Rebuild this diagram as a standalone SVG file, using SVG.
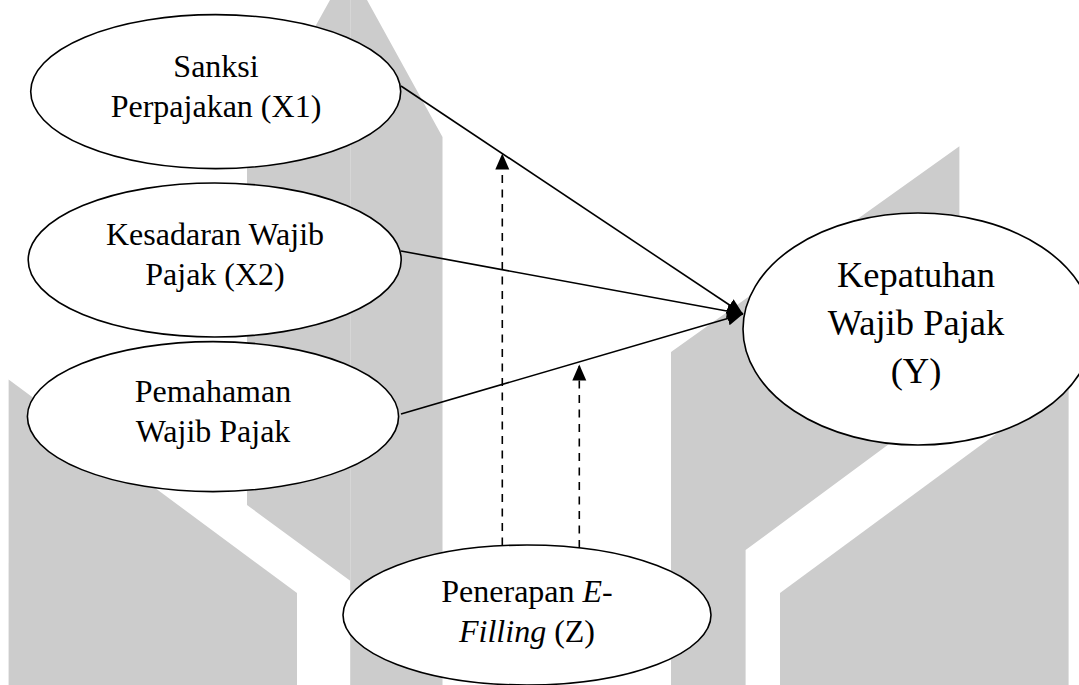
<svg xmlns="http://www.w3.org/2000/svg" width="1079" height="685" viewBox="0 0 1079 685">
<style>
.bg{fill:#cccccc;stroke:none}
.node ellipse{fill:#ffffff;stroke:#000000;stroke-width:1.6}
.node text{font-family:"Liberation Serif","Times New Roman",serif;font-size:32px;fill:#000000;text-anchor:middle}
.node text.big{font-size:36.5px}
.edge{stroke:#000000;stroke-width:1.6;fill:none}
.dash{stroke-dasharray:8 6.5}
</style>
<defs>
<marker id="arrow" markerUnits="userSpaceOnUse" markerWidth="18" markerHeight="16" refX="16" refY="7" orient="auto">
<path d="M0,0 L16,7 L0,14 z" fill="#000000"/>
</marker>
</defs>
<g id="background">
<polygon class="bg" points="8.6,685 8.6,379.6 297,593 297,685"/>
<polygon class="bg" points="247,505 247,149 330,0 367,0 442.5,137 442.5,685 350.5,685 350.5,581"/>
<line x1="350.5" y1="0" x2="350.5" y2="685" stroke="#d6d6d6" stroke-width="1"/>
<polygon class="bg" points="671,685 671,352 959.4,146.3 959.4,392 745.6,550 745.6,685"/>
<polygon class="bg" points="780,685 780,593 1068.6,380.4 1068.6,685"/>
</g>
<g id="node-x1" class="node">
<ellipse cx="215.7" cy="91.6" rx="185" ry="77"/>
<text x="216" y="76.7">Sanksi</text>
<text x="216" y="116.7">Perpajakan (X1)</text>
</g>
<g id="node-x2" class="node">
<ellipse cx="214.7" cy="260" rx="186.5" ry="77"/>
<text x="215" y="245">Kesadaran Wajib</text>
<text x="215" y="285">Pajak (X2)</text>
</g>
<g id="node-x3" class="node">
<ellipse cx="213" cy="416.6" rx="185.6" ry="75"/>
<text x="213" y="402">Pemahaman</text>
<text x="213" y="442">Wajib Pajak</text>
</g>
<g id="node-y" class="node">
<ellipse cx="918" cy="329" rx="175" ry="116"/>
<text class="big" x="916" y="286.7">Kepatuhan</text>
<text class="big" x="916" y="335">Wajib Pajak</text>
<text class="big" x="916" y="383">(Y)</text>
</g>
<g id="node-z" class="node">
<ellipse cx="527" cy="615" rx="184" ry="70"/>
<text x="527" y="601.7">Penerapan <tspan font-style="italic">E</tspan>-</text>
<text x="527" y="641.7"><tspan font-style="italic">Filling</tspan> (Z)</text>
</g>
<g id="connectors">
<line class="edge" x1="401" y1="86" x2="743" y2="314" marker-end="url(#arrow)"/>
<line class="edge" x1="401" y1="251" x2="743" y2="314" marker-end="url(#arrow)"/>
<line class="edge" x1="401" y1="414" x2="743" y2="314" marker-end="url(#arrow)"/>
<line class="edge dash" x1="502.3" y1="545.6" x2="502.3" y2="153.5" marker-end="url(#arrow)"/>
<line class="edge dash" x1="579.3" y1="548" x2="579.3" y2="364.5" marker-end="url(#arrow)"/>
</g>
</svg>
